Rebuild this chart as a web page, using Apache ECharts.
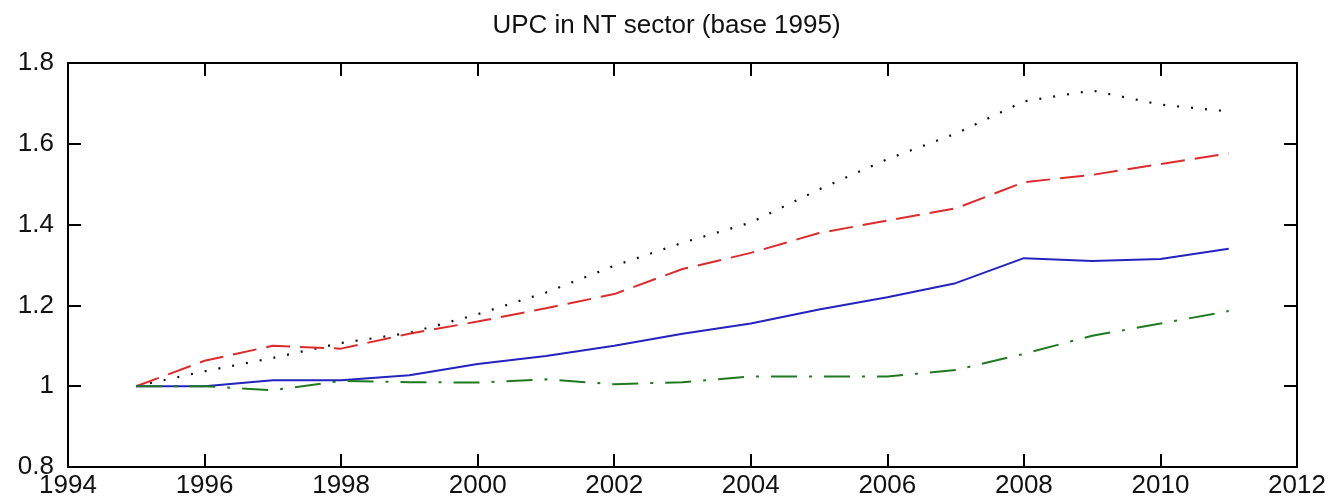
<!DOCTYPE html>
<html>
<head>
<meta charset="utf-8">
<title>UPC in NT sector</title>
<script src="https://cdn.jsdelivr.net/npm/echarts@6/dist/echarts.min.js"></script>
<style>
  html, body { margin: 0; padding: 0; background: #fff; }
  #main { width: 1333px; height: 501px; }
</style>
</head>
<body>
<div id="main"></div>
<script>
var years = [1995, 1996, 1997, 1998, 1999, 2000, 2001, 2002, 2003, 2004, 2005, 2006, 2007, 2008, 2009, 2010, 2011];

// black dotted
var dottedSeries = [1.0, 1.037, 1.07, 1.107, 1.132, 1.178, 1.232, 1.298, 1.355, 1.405, 1.487, 1.562, 1.625, 1.705, 1.732, 1.697, 1.68];
// red dashed
var dashedSeries = [1.0, 1.063, 1.10, 1.093, 1.13, 1.16, 1.193, 1.228, 1.29, 1.33, 1.379, 1.41, 1.44, 1.505, 1.523, 1.55, 1.576];
// blue solid
var solidSeries = [1.0, 1.0, 1.015, 1.015, 1.027, 1.055, 1.075, 1.10, 1.13, 1.155, 1.19, 1.22, 1.255, 1.317, 1.31, 1.315, 1.34];
// green dash-dot
var dashDotSeries = [1.0, 1.0, 0.99, 1.013, 1.01, 1.009, 1.017, 1.005, 1.01, 1.024, 1.024, 1.024, 1.04, 1.08, 1.125, 1.155, 1.186];

var xTicks = [1994, 1996, 1998, 2000, 2002, 2004, 2006, 2008, 2010, 2012];
var yTicks = [0.8, 1, 1.2, 1.4, 1.6, 1.8];

function pairs(values) {
  return years.map(function (y, i) { return [y, values[i]]; });
}

var chartDom = document.getElementById('main');
var myChart = echarts.init(chartDom);
var option;

var fontFamily = '"Liberation Sans", Arial, sans-serif';
var boxLine = { show: true, onZero: false, lineStyle: { color: '#000', width: 2 } };
var boxTick = { show: true, inside: true, length: 13, lineStyle: { color: '#000', width: 2 } };

option = {
  backgroundColor: '#fff',
  animation: false,
  title: {
    text: 'UPC in NT sector (base 1995)',
    left: 'center',
    top: 8,
    textStyle: { fontFamily: fontFamily, fontSize: 26, fontWeight: 'normal', color: '#111' }
  },
  grid: {
    left: 68,
    right: 36,
    top: 63,
    bottom: 34,
    containLabel: false,
    outerBoundsMode: 'none'
  },
  xAxis: [
    {
      type: 'value',
      position: 'bottom',
      min: xTicks[0],
      max: xTicks[xTicks.length - 1],
      interval: 2,
      axisLine: boxLine,
      axisTick: boxTick,
      splitLine: { show: false },
      axisLabel: {
        margin: 6,
        fontFamily: fontFamily,
        fontSize: 26,
        color: '#111',
        showMinLabel: true,
        showMaxLabel: true,
        formatter: function (v) { return String(Math.round(v)); }
      }
    },
    {
      type: 'value',
      position: 'top',
      min: xTicks[0],
      max: xTicks[xTicks.length - 1],
      interval: 2,
      axisLine: boxLine,
      axisTick: boxTick,
      splitLine: { show: false },
      axisLabel: { show: false }
    }
  ],
  yAxis: [
    {
      type: 'value',
      position: 'left',
      min: yTicks[0],
      max: yTicks[yTicks.length - 1],
      interval: 0.2,
      axisLine: boxLine,
      axisTick: boxTick,
      splitLine: { show: false },
      axisLabel: {
        margin: 14,
        fontFamily: fontFamily,
        fontSize: 26,
        color: '#111',
        formatter: function (v) { return String(+v.toFixed(1)); }
      }
    },
    {
      type: 'value',
      position: 'right',
      min: yTicks[0],
      max: yTicks[yTicks.length - 1],
      interval: 0.2,
      axisLine: boxLine,
      axisTick: boxTick,
      splitLine: { show: false },
      axisLabel: { show: false }
    }
  ],
  series: [
    {
      name: 'dotted',
      type: 'line',
      data: pairs(dottedSeries),
      showSymbol: false,
      lineStyle: { color: '#111', width: 2.2, type: [2, 12] }
    },
    {
      name: 'dashed',
      type: 'line',
      data: pairs(dashedSeries),
      showSymbol: false,
      lineStyle: { color: '#dd2a2a', width: 2, type: [24, 10] }
    },
    {
      name: 'solid',
      type: 'line',
      data: pairs(solidSeries),
      showSymbol: false,
      lineStyle: { color: '#2323c0', width: 2, type: 'solid' }
    },
    {
      name: 'dashdot',
      type: 'line',
      data: pairs(dashDotSeries),
      showSymbol: false,
      lineStyle: { color: '#1f7a1f', width: 2, type: [26, 12, 3, 12] }
    }
  ]
};

option && myChart.setOption(option);
</script>
</body>
</html>
